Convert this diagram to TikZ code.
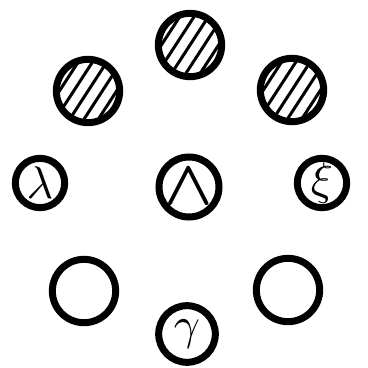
\documentclass[tikz,border=0pt]{standalone}
\usepackage{graphicx}
\begin{document}
\begin{tikzpicture}[
    x=0.03cm, y=0.03cm,
    ring/.style={
        draw,
        circle,
        line width=0.21cm,
        inner sep=0pt,
        minimum size=1.9cm
    },
    small ring/.style={ring, minimum size=1.48cm}
]
% hatching inside a circle
\tikzset{hatched/.style={path picture={
    \foreach \k in {-24,-12,...,24}
        \draw[line width=0.09cm]
            ([shift={(147:\k)}]path picture bounding box.center) ++(237:40) -- ++(57:80);}}}
\newcommand{\glyph}[2][3.9]{\scalebox{#1}{$#2$}}

\useasboundingbox (0,0) rectangle (367,-368);

% Hatched circles
\node[ring,hatched] (top) at (190,-45) {};
\node[ring,hatched] (upleft) at (88,-91) {};
\node[ring,hatched] (upright) at (292,-90) {};

% Middle row
\node[small ring] (lambda) at (40,-183) {\glyph{\lambda}};
\node[ring,minimum size=1.8cm] (wedge) at (189,-187) {\scalebox{5.4}{\boldmath$\wedge$}};
\node[small ring] (xi) at (322,-183) {\glyph{\xi}};

% Empty circles
\node[ring] (lowleft) at (84,-291) {};
\node[ring] (lowright) at (288,-290) {};

% Bottom
\node[ring,minimum size=1.7cm] (gamma) at (187,-334) {\glyph{\gamma}};

\end{tikzpicture}
\end{document}
